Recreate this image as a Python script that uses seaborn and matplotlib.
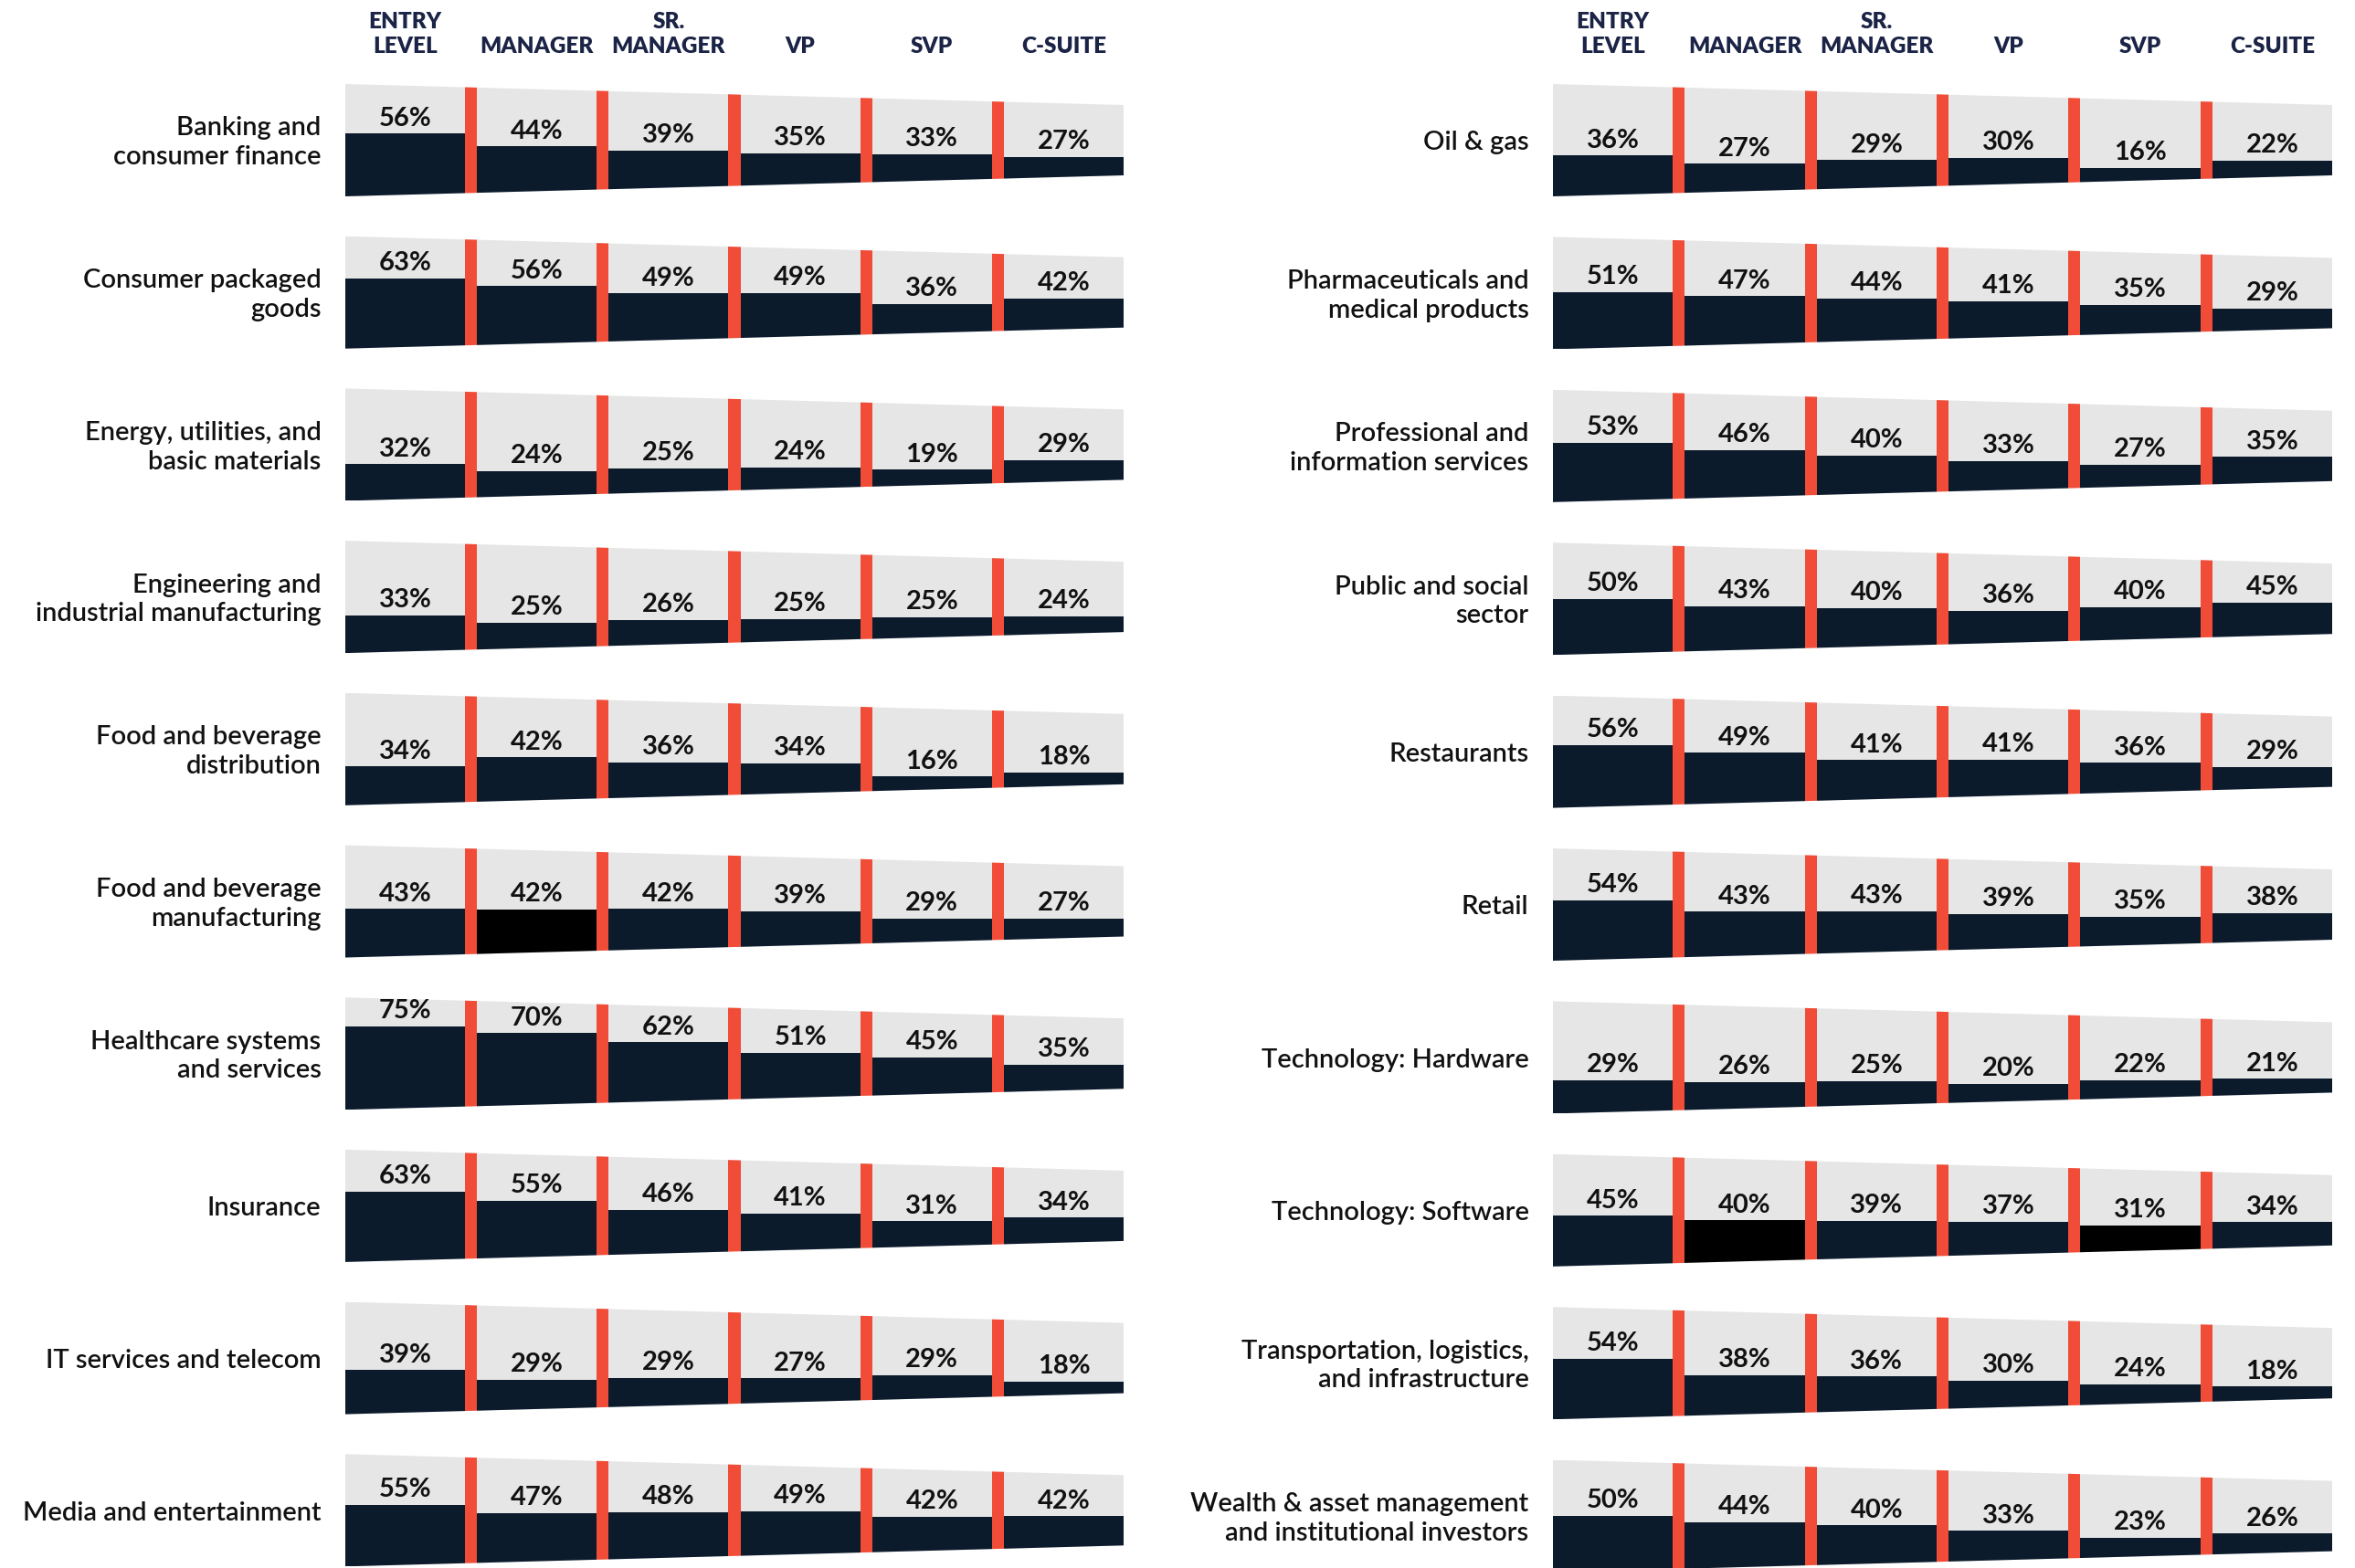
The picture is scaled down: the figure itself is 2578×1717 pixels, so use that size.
import numpy as np
import pandas as pd
import matplotlib
matplotlib.use("Agg")
import matplotlib.pyplot as plt
import matplotlib.transforms as mtransforms
from matplotlib.patches import Rectangle
import seaborn as sns

# ---------------- data ----------------
levels = ["ENTRY\nLEVEL", "MANAGER", "SR.\nMANAGER", "VP", "SVP", "C-SUITE"]

left_industries = [
    "Banking and\nconsumer finance",
    "Consumer packaged\ngoods",
    "Energy, utilities, and\nbasic materials",
    "Engineering and\nindustrial manufacturing",
    "Food and beverage\ndistribution",
    "Food and beverage\nmanufacturing",
    "Healthcare systems\nand services",
    "Insurance",
    "IT services and telecom",
    "Media and entertainment",
]
left_values = [
    [56, 44, 39, 35, 33, 27],
    [63, 56, 49, 49, 36, 42],
    [32, 24, 25, 24, 19, 29],
    [33, 25, 26, 25, 25, 24],
    [34, 42, 36, 34, 16, 18],
    [43, 42, 42, 39, 29, 27],
    [75, 70, 62, 51, 45, 35],
    [63, 55, 46, 41, 31, 34],
    [39, 29, 29, 27, 29, 18],
    [55, 47, 48, 49, 42, 42],
]
left_highlight = [(5, 1)]

right_industries = [
    "Oil & gas",
    "Pharmaceuticals and\nmedical products",
    "Professional and\ninformation services",
    "Public and social\nsector",
    "Restaurants",
    "Retail",
    "Technology: Hardware",
    "Technology: Software",
    "Transportation, logistics,\nand infrastructure",
    "Wealth & asset management\nand institutional investors",
]
right_values = [
    [36, 27, 29, 30, 16, 22],
    [51, 47, 44, 41, 35, 29],
    [53, 46, 40, 33, 27, 35],
    [50, 43, 40, 36, 40, 45],
    [56, 49, 41, 41, 36, 29],
    [54, 43, 43, 39, 35, 38],
    [29, 26, 25, 20, 22, 21],
    [45, 40, 39, 37, 31, 34],
    [54, 38, 36, 30, 24, 18],
    [50, 44, 40, 33, 23, 26],
]
right_highlight = [(7, 1), (7, 4)]

# ---------------- style ----------------
sns.set_theme(style="white")
plt.rcParams["font.family"] = ["Lato", "DejaVu Sans"]

NAVY = "#0c1b2c"
BLACK = "#000000"
GRAY = "#e6e6e6"
RED = "#f04c37"
HEAD = "#1b2446"
TXT = "#111111"

W, H = 2578, 1717
fig = plt.figure(figsize=(W / 100, H / 100), dpi=100)
fig.patch.set_facecolor("white")

H0 = 123.0      # trapezoid height at the left edge (px)
TAPER = 23.0    # drop of top edge / rise of bottom edge across the width (px)
SEG = 80 / 88   # segment width relative to pitch
X0, X1 = -SEG / 2, len(levels) - 1 + SEG / 2
SLOPE = TAPER / (X1 - X0)


def top_edge(x):
    return H0 - SLOPE * (np.asarray(x, float) - X0)


def bot_edge(x):
    return SLOPE * (np.asarray(x, float) - X0)


def draw_panel(left_px, width_px, row0_px, pitch_px, names, values, highlights):
    for r, (name, vals) in enumerate(zip(names, values)):
        top_px = row0_px + r * pitch_px
        ax = fig.add_axes([left_px / W, 1 - (top_px + H0) / H, width_px / W, H0 / H])
        poly = ax.fill([X0, X1, X1, X0],
                       [bot_edge(X0), bot_edge(X1), top_edge(X1), top_edge(X0)],
                       color=GRAY, lw=0, zorder=0)[0]
        centers = np.arange(len(levels))
        vals = np.asarray(vals, float)
        ytop = bot_edge(centers) + vals / 100 * (top_edge(centers) - bot_edge(centers))
        df = pd.DataFrame({"level": levels, "y": ytop})
        colors = [BLACK if (r, i) in highlights else NAVY for i in range(len(levels))]
        sns.barplot(data=df, x="level", y="y", hue="level", hue_order=levels,
                    order=levels, palette=colors, width=SEG, saturation=1,
                    legend=False, linewidth=0, ax=ax, zorder=1)
        for p in list(ax.patches):
            if p is not poly:
                p.set_clip_path(poly)
        for b in centers[:-1] + 0.5:
            rect = Rectangle((b - (1 - SEG) / 2, 0), 1 - SEG, H0, color=RED, lw=0, zorder=3)
            ax.add_patch(rect)
            rect.set_clip_path(poly)
        for i, v in enumerate(vals):
            ax.annotate(f"{int(v)}%", (i, ytop[i]), xytext=(0, 12), textcoords="offset points",
                        ha="center", va="center", fontsize=21, fontweight="bold",
                        color=TXT, annotation_clip=False, zorder=5)
        ax.annotate(name, (X0, H0 / 2), xytext=(-19, -2), textcoords="offset points",
                    ha="right", va="center", fontsize=21, fontweight="semibold",
                    color=TXT, linespacing=1.27, annotation_clip=False)
        ax.set_xlim(X0, X1)
        ax.set_ylim(0, H0)
        ax.set_axis_off()
        if r == 0:
            trans = mtransforms.blended_transform_factory(ax.transData, fig.transFigure)
            for i, lab in enumerate(levels):
                ax.text(i, 1 - 58 / H, lab, transform=trans, ha="center", va="baseline",
                        fontsize=17.5, fontweight="heavy", color=HEAD, linespacing=1.3)


draw_panel(378, 852, 92, 166.7, left_industries, left_values, left_highlight)
draw_panel(1700, 853, 92, 167.4, right_industries, right_values, right_highlight)

fig.savefig("out.png", dpi=100, facecolor="white")
